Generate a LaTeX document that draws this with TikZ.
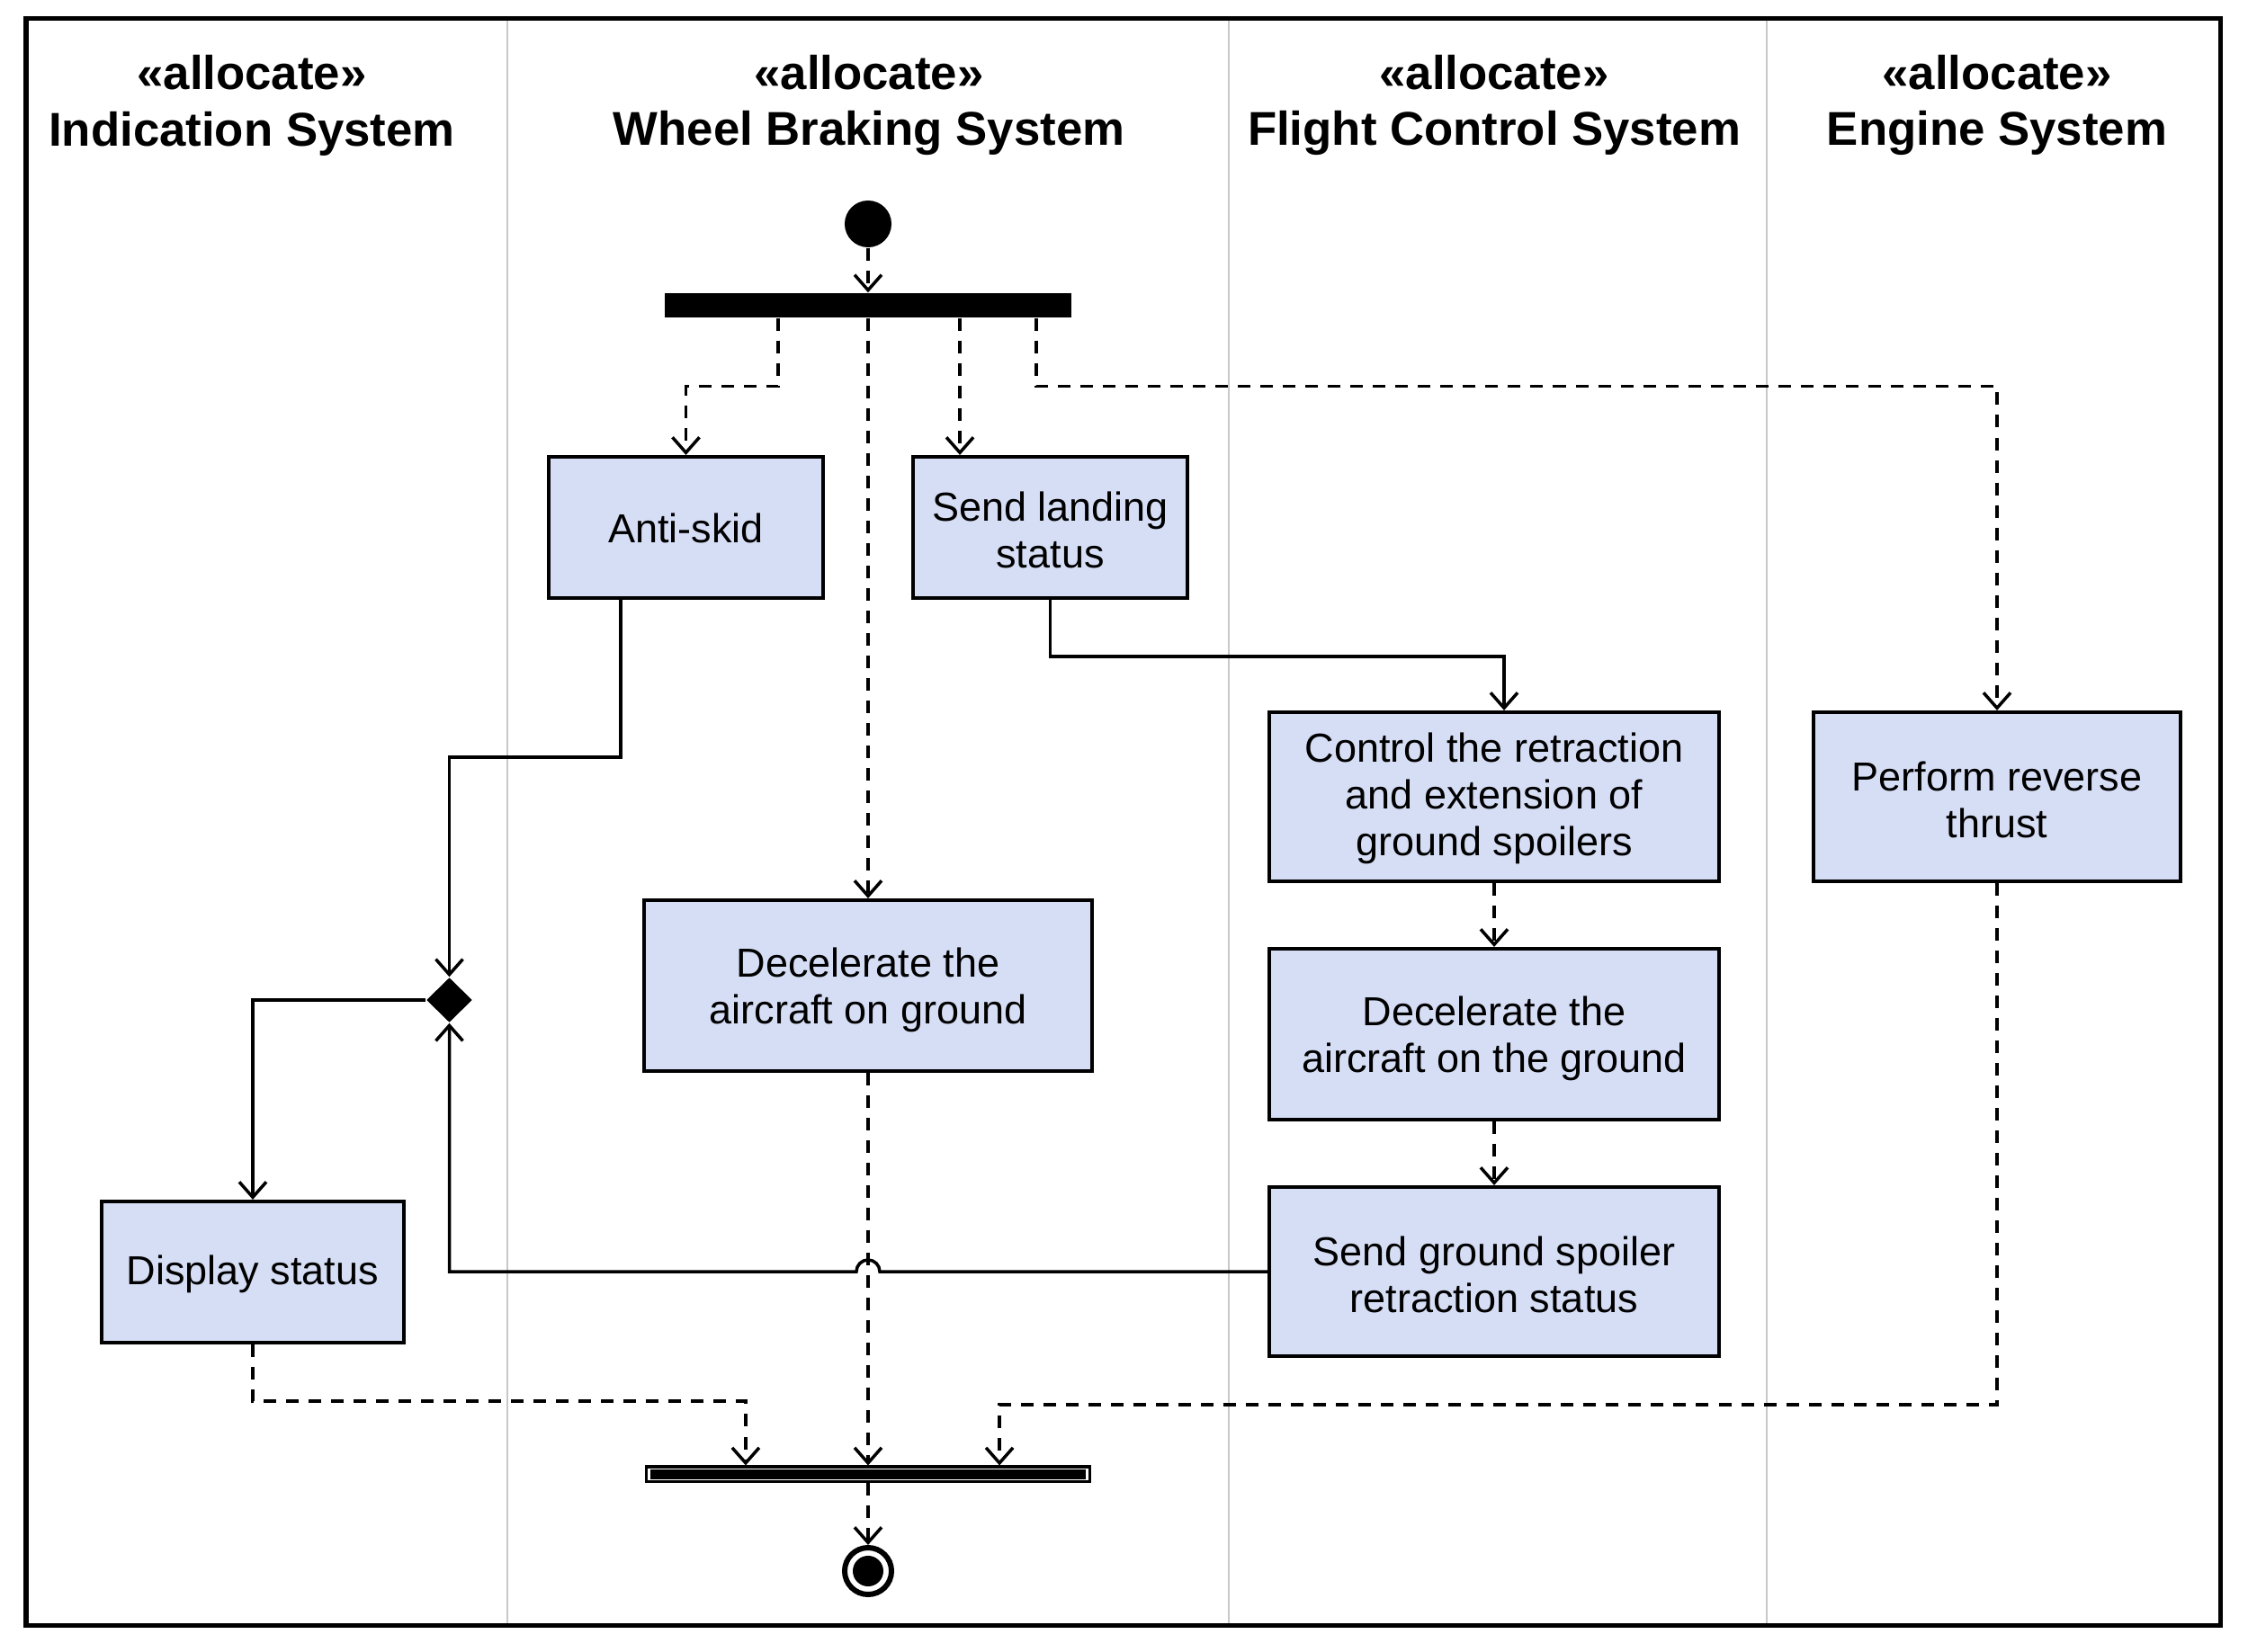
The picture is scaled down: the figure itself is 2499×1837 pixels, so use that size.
\documentclass[tikz,border=0pt]{standalone}
\usepackage{fontspec}
\setmainfont{Liberation Sans}
\usetikzlibrary{arrows.meta,shapes.geometric}
\definecolor{actfill}{HTML}{D6DEF5}
\definecolor{lanegray}{HTML}{C8C8C8}
\newcommand\acttext{\fontsize{12.8}{14.8}\selectfont}
\newcommand\headtext{\bfseries\fontsize{15}{17.9}\selectfont}
\tikzset{
  act/.style={draw, line width=0.04cm, fill=actfill, inner sep=0},
  acttxt/.style={align=center, font=\acttext, inner sep=0},
  flowsolid/.style={line width=0.035cm, -{Straight Barb[length=0.17cm,width=0.30cm]}},
  flowdash/.style={flowsolid, dash pattern=on 0.14cm off 0.11cm},
  lane/.style={draw=lanegray, line width=0.025cm},
  header/.style={font=\headtext, align=center, inner sep=0}
}
\begin{document}
\begin{tikzpicture}[x=0.01cm,y=-0.01cm]
\useasboundingbox (0,0) rectangle (2499,1837);
% swimlanes
\draw[lane] (564,21) -- (564,1807);
\draw[lane] (1366,21) -- (1366,1807);
\draw[lane] (1964,21) -- (1964,1807);
\draw[line width=0.05cm] (29,21) rectangle (2468,1807);
% headers
\node[header] (h1) at (280,117) {«allocate»\\Indication System};
\node[header] (h2) at (966,117) {«allocate»\\Wheel Braking System};
\node[header] (h3) at (1661,117) {«allocate»\\Flight Control System};
\node[header] (h4) at (2220,117) {«allocate»\\Engine System};
% control nodes
\node[circle, fill=black, minimum size=0.52cm, inner sep=0] (init) at (965,249) {};
\node[fill=black, minimum width=4.51cm, minimum height=0.27cm, inner sep=0] (fork) at (965,339.5) {};
\node[draw, line width=0.03cm, fill=white, minimum width=4.92cm, minimum height=0.16cm, inner sep=0] (join) at (965,1639) {};
\fill ([xshift=0.06cm,yshift=0.04cm]join.south west) rectangle ([xshift=-0.06cm,yshift=-0.04cm]join.north east);
\node[circle, draw, line width=0.06cm, fill=white, minimum size=0.52cm, inner sep=0] (final) at (965,1747) {};
\fill (final.center) circle (0.17cm);
\node[diamond, fill=black, minimum width=0.51cm, minimum height=0.5cm, inner sep=0] (dec) at (499.5,1112) {};
% actions
\node[act, minimum width=3.05cm, minimum height=1.57cm,
  label={[acttxt,yshift=-0.01cm]center:Anti-skid}] (antiskid) at (762.5,586.5) {};
\node[act, minimum width=3.05cm, minimum height=1.57cm,
  label={[acttxt,yshift=-0.03cm]center:{Send landing\\status}}] (sendland) at (1167.5,586.5) {};
\node[act, minimum width=4.98cm, minimum height=1.90cm,
  label={[acttxt,yshift=-0.05cm]center:{Decelerate the\\aircraft on ground}}] (decelW) at (965,1096) {};
\node[act, minimum width=5.00cm, minimum height=1.88cm,
  label={[acttxt,yshift=-0.02cm]center:{Control the retraction\\and extension of\\ground spoilers}}] (control) at (1661,886) {};
\node[act, minimum width=4.08cm, minimum height=1.88cm,
  label={[acttxt,yshift=-0.03cm]center:{Perform reverse\\thrust}}] (reverse) at (2220,886) {};
\node[act, minimum width=5.00cm, minimum height=1.90cm,
  label={[acttxt,yshift=-0.05cm]center:{Decelerate the\\aircraft on the ground}}] (decelF) at (1661,1150) {};
\node[act, minimum width=5.00cm, minimum height=1.88cm,
  label={[acttxt,yshift=-0.03cm]center:{Send ground spoiler\\retraction status}}] (sendspoil) at (1661,1414) {};
\node[act, minimum width=3.36cm, minimum height=1.57cm,
  label={[acttxt,yshift=-0.02cm]center:Display status}] (display) at (281,1414.5) {};
% connectors
\draw[flowdash] (init) -- (fork.north);
\draw[flowdash] ([xshift=-1cm]fork.south) -- ++(0,76) -| (antiskid.north);
\draw[flowdash] (fork.south) -- (decelW.north);
\draw[flowdash] ([xshift=1.02cm]fork.south) -- ([xshift=1.02cm]fork.south |- sendland.north);
\draw[flowdash] ([xshift=1.87cm]fork.south) -- ++(0,76) -| (reverse.north);
\draw[flowsolid] ([xshift=-0.725cm]antiskid.south) -- ++(0,175) -| (dec.north);
\draw[flowsolid] (sendland.south) -- ++(0,63) -| ([xshift=0.11cm]control.north);
\draw[flowdash] (control.south) -- (decelF.north);
\draw[flowdash] (decelF.south) -- (sendspoil.north);
\draw[flowsolid] (sendspoil.west) -- ([xshift=0.13cm]decelW.south |- sendspoil.west)
  arc[start angle=0, end angle=180, radius=0.13cm] -- (dec.south |- sendspoil.west) -- (dec.south);
\draw[flowsolid] (dec.west) -| (display.north);
\draw[flowdash] (display.south) -- ++(0,63) -| ([xshift=-1.36cm]join.north);
\draw[flowdash] (decelW.south) -- (join.north);
\draw[flowdash] (reverse.south) -- ++(0,580) -| ([xshift=1.46cm]join.north);
\draw[flowdash] (join.south) -- (final.north);
\end{tikzpicture}
\end{document}
